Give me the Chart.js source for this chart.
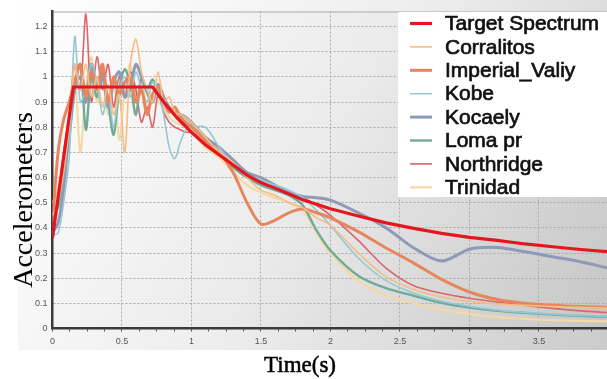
<!DOCTYPE html>
<html>
<head>
<meta charset="utf-8">
<script src="https://cdn.jsdelivr.net/npm/chart.js@4"></script>
<style>
  html, body { margin: 0; padding: 0; background: #ffffff; }
  #wrap { width: 607px; height: 379px; position: relative; }
</style>
</head>
<body>
<div id="wrap"><canvas id="chart" width="607" height="379"></canvas></div>
<script>
// Periods (s) at which the recorded spectra are sampled
const periods = [0, 0.04, 0.08, 0.12, 0.16, 0.2, 0.24, 0.28, 0.32, 0.36, 0.4, 0.44, 0.48, 0.52, 0.56, 0.6,
  0.64, 0.68, 0.72, 0.76, 0.8, 0.84, 0.88, 0.92, 0.96, 1.0, 1.1, 1.2, 1.3, 1.4, 1.5, 1.6, 1.7, 1.8, 1.9, 2.0,
  2.2, 2.4, 2.6, 2.8, 3.0, 3.2, 3.4, 3.6, 3.8, 4.0];

// Design (target) spectrum
const targetPeriods = [0, 0.15, 0.72, 0.8, 0.9, 1.0, 1.1, 1.2, 1.3, 1.4, 1.5, 1.6, 1.8, 2.0, 2.2, 2.4, 2.6,
  2.8, 3.0, 3.2, 3.4, 3.6, 3.8, 4.0];
const targetSpectrum = [0.36, 0.96, 0.96, 0.9, 0.835, 0.78, 0.73, 0.69, 0.65, 0.61, 0.58, 0.558, 0.512,
  0.476, 0.447, 0.42, 0.398, 0.378, 0.362, 0.35, 0.336, 0.325, 0.314, 0.305];

// Scaled record spectra
const corralitos = [0.45, 0.5, 0.62, 0.8, 1.05, 0.95, 1.05, 0.92, 1.0, 0.88, 0.97, 0.85, 0.93, 0.7, 1.05, 1.15,
  1.02, 0.95, 0.9, 1.02, 0.9, 0.92, 0.86, 0.85, 0.84, 0.82, 0.76, 0.7, 0.66, 0.6, 0.55, 0.53, 0.5, 0.48, 0.44,
  0.41, 0.3, 0.205, 0.155, 0.125, 0.108, 0.098, 0.092, 0.087, 0.084, 0.081];
const imperialValley = [0.42, 0.7, 0.83, 0.9, 0.98, 1.05, 0.92, 1.02, 0.95, 1.05, 0.9, 1.0, 0.93, 0.98, 1.0, 0.9,
  0.95, 0.85, 0.93, 0.96, 0.9, 0.86, 0.88, 0.84, 0.82, 0.8, 0.75, 0.7, 0.62, 0.5, 0.415, 0.43, 0.46, 0.475, 0.46,
  0.44, 0.385, 0.32, 0.26, 0.195, 0.145, 0.115, 0.1, 0.092, 0.087, 0.084];
const kobe = [0.37, 0.38, 0.5, 0.68, 1.16, 0.9, 0.95, 1.05, 0.98, 0.85, 0.93, 0.8, 0.95, 1.0, 0.92, 1.02,
  0.95, 0.9, 0.98, 0.95, 0.85, 0.72, 0.675, 0.74, 0.79, 0.8, 0.8, 0.72, 0.65, 0.61, 0.59, 0.57, 0.55, 0.52, 0.47,
  0.41, 0.28, 0.19, 0.14, 0.108, 0.088, 0.073, 0.064, 0.057, 0.052, 0.048];
const kocaeli = [0.38, 0.42, 0.55, 0.8, 0.95, 1.0, 0.9, 1.05, 0.95, 1.0, 0.88, 0.98, 1.02, 0.92, 0.96, 1.05,
  1.0, 0.94, 0.9, 0.97, 0.92, 0.88, 0.86, 0.85, 0.84, 0.82, 0.76, 0.72, 0.67, 0.62, 0.6, 0.57, 0.54, 0.525, 0.52,
  0.51, 0.46, 0.4, 0.32, 0.268, 0.315, 0.322, 0.305, 0.285, 0.265, 0.24];
const lomaPrieta = [0.45, 0.48, 0.6, 0.75, 0.95, 1.05, 0.79, 1.0, 0.92, 1.02, 0.9, 0.77, 0.95, 1.03, 0.97, 0.85,
  1.0, 0.95, 0.99, 0.93, 0.9, 0.87, 0.85, 0.83, 0.81, 0.8, 0.75, 0.7, 0.64, 0.6, 0.57, 0.55, 0.53, 0.49, 0.39,
  0.31, 0.21, 0.16, 0.13, 0.102, 0.083, 0.07, 0.062, 0.055, 0.05, 0.046];
const northridge = [0.4, 0.52, 0.7, 0.85, 1.05, 0.95, 1.25, 0.9, 1.08, 0.95, 1.05, 0.88, 1.0, 0.92, 1.02, 0.95,
  0.82, 0.88, 0.8, 0.93, 0.86, 0.82, 0.8, 0.79, 0.78, 0.78, 0.74, 0.7, 0.64, 0.6, 0.575, 0.56, 0.535, 0.52, 0.49,
  0.45, 0.35, 0.24, 0.17, 0.14, 0.12, 0.105, 0.092, 0.08, 0.07, 0.063];
const trinidad = [0.5, 0.55, 0.68, 0.85, 1.0, 0.7, 0.95, 1.08, 0.9, 1.0, 0.85, 0.98, 0.75, 0.95, 1.05, 0.92,
  0.98, 0.88, 0.94, 0.9, 0.88, 0.84, 0.82, 0.81, 0.8, 0.79, 0.72, 0.68, 0.62, 0.57, 0.54, 0.52, 0.5, 0.47, 0.38,
  0.3, 0.19, 0.13, 0.1, 0.075, 0.058, 0.045, 0.038, 0.033, 0.03, 0.028];

const seriesNames = ['Target Spectrum', 'Corralitos', 'Imperial_Valiy', 'Kobe', 'Kocaely', 'Loma pr', 'Northridge', 'Trinidad'];
const seriesValues = [targetSpectrum, corralitos, imperialValley, kobe, kocaeli, lomaPrieta, northridge, trinidad];
const seriesColors = ['#e5161e', '#f5bd85', '#e8855c', '#95c8d4', '#8f9ab7', '#6eab99', '#d9666b', '#f4d9a4'];
const seriesWidths = [3.2, 1.6, 3, 1.6, 3, 2.4, 1.6, 2.2];

const yTicksMax = 1.26;
const xTicksMax = 3.99;

function toPoints(xs, ys) {
  return ys.map((v, i) => ({ x: xs[i], y: v }));
}

const datasets = seriesValues.map((vals, i) => ({
  label: seriesNames[i],
  data: toPoints(i === 0 ? targetPeriods : periods, vals),
  borderColor: seriesColors[i],
  borderWidth: seriesWidths[i],
  pointRadius: 0,
  tension: i === 0 ? 0 : 0.3,
  fill: false
}));

// Panel and plot-area shading drawn underneath everything
const backdrop = {
  id: 'backdrop',
  beforeDraw(chart) {
    const { ctx, chartArea: a, width } = chart;
    ctx.save();
    ctx.fillStyle = '#ffffff';
    ctx.fillRect(0, 0, width, chart.height);
    const pg = ctx.createLinearGradient(18, 0, width, 350);
    pg.addColorStop(0, '#ffffff');
    pg.addColorStop(0.5, '#eeeeee');
    pg.addColorStop(1, '#cbcbcb');
    ctx.fillStyle = pg;
    ctx.fillRect(18, 0, width - 18, 350);
    const g = ctx.createLinearGradient(a.left, a.top, a.right, a.bottom);
    g.addColorStop(0, '#fdfdfd');
    g.addColorStop(0.45, '#ececec');
    g.addColorStop(1, '#c6c6c6');
    ctx.fillStyle = g;
    ctx.fillRect(a.left, a.top, a.right - a.left, a.bottom - a.top);
    ctx.strokeStyle = '#a8a8a8';
    ctx.lineWidth = 1;
    ctx.beginPath();
    ctx.moveTo(a.left, a.top + 0.5);
    ctx.lineTo(a.right, a.top + 0.5);
    ctx.stroke();
    ctx.restore();
  }
};

// Axis titles and the boxed legend
const annotations = {
  id: 'annotations',
  afterDraw(chart) {
    const { ctx } = chart;
    ctx.save();
    ctx.fillStyle = '#000000';
    ctx.strokeStyle = '#000000';
    ctx.lineWidth = 0.5;
    ctx.textAlign = 'center';
    ctx.textBaseline = 'middle';
    ctx.font = '23px "Liberation Serif", "Times New Roman", serif';
    ctx.fillText('Time(s)', 300, 366);
    ctx.strokeText('Time(s)', 300, 366);
    ctx.translate(25, 200);
    ctx.rotate(-Math.PI / 2);
    ctx.font = '28px "Liberation Serif", "Times New Roman", serif';
    ctx.fillText('Accelerometers', 0, 0);
    ctx.restore();

    ctx.save();
    ctx.fillStyle = '#ffffff';
    ctx.fillRect(398, 12, 209, 185);
    ctx.font = '21px "Liberation Sans", Arial, sans-serif';
    ctx.textAlign = 'left';
    ctx.textBaseline = 'middle';
    chart.data.datasets.forEach((ds, i) => {
      const y = 23.5 + i * 23.4;
      ctx.strokeStyle = ds.borderColor;
      ctx.lineWidth = ds.borderWidth;
      ctx.beginPath();
      ctx.moveTo(410, y);
      ctx.lineTo(432, y);
      ctx.stroke();
      ctx.fillStyle = '#111111';
      ctx.strokeStyle = '#111111';
      ctx.lineWidth = 0.7;
      ctx.fillText(ds.label, 445, y + 1);
      ctx.strokeText(ds.label, 445, y + 1);
    });
    ctx.restore();
  }
};

new Chart(document.getElementById('chart'), {
  type: 'line',
  data: { datasets },
  plugins: [backdrop, annotations],
  options: {
    responsive: false,
    animation: false,
    layout: { padding: { top: 11.5, left: 0, right: 0, bottom: 0 } },
    plugins: { legend: { display: false }, tooltip: { enabled: false } },
    scales: {
      x: {
        type: 'linear',
        min: 0,
        max: xTicksMax,
        afterFit(scale) { scale.height = 50.5; },
        border: { display: true, color: '#3a3a3a', width: 2.5, dash: [2, 2] },
        grid: {
          color: (c) => (c.tick && Math.abs(c.tick.value * 2 - Math.round(c.tick.value * 2)) < 1e-6 && c.tick.value > 0) ? '#a9a9a9' : 'rgba(0,0,0,0)',
          tickColor: '#4a4a4a',
          tickLength: 3,
          lineWidth: 1,
          drawTicks: true
        },
        ticks: {
          stepSize: 0.125,
          autoSkip: false,
          maxRotation: 0,
          includeBounds: false,
          padding: 5,
          color: '#555555',
          font: { family: '"Liberation Sans", Arial, sans-serif', size: 9 },
          callback: (v) => (Math.abs(v * 2 - Math.round(v * 2)) < 1e-6 ? String(Math.round(v * 2) / 2) : '')
        }
      },
      y: {
        type: 'linear',
        min: 0,
        max: yTicksMax,
        afterFit(scale) { scale.width = 52.5; },
        border: { display: true, color: '#3a3a3a', width: 2.5, dash: [2, 2] },
        grid: {
          color: (c) => (c.tick && c.tick.value > 0 ? '#a9a9a9' : 'rgba(0,0,0,0)'),
          lineWidth: 1,
          drawTicks: false
        },
        ticks: {
          stepSize: 0.1,
          includeBounds: false,
          padding: 5,
          color: '#555555',
          font: { family: '"Liberation Sans", Arial, sans-serif', size: 9 },
          callback: (v) => String(Math.round(v * 10) / 10)
        }
      }
    }
  }
});
</script>
</body>
</html>
